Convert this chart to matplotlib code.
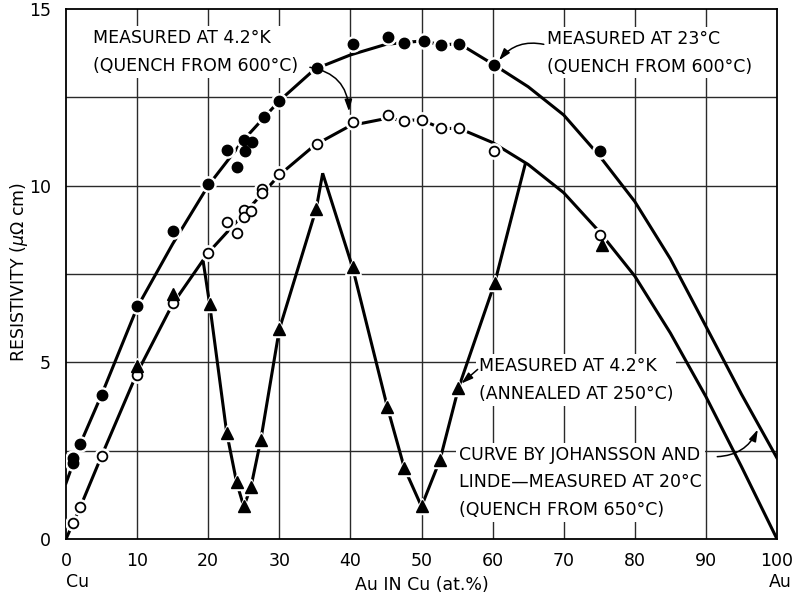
import matplotlib
matplotlib.use("Agg")
import matplotlib.pyplot as plt

# ---- data ----
# Filled circles (measured at 23 C, quench from 600 C)
fill_x = [1, 1, 2, 5, 10, 15, 20, 22.6, 24, 25.1, 25.2, 26.2, 27.8, 30, 35.3, 40.3, 45.3, 47.6, 50.3, 52.8, 55.3, 60.2, 75.1]
fill_y = [2.29, 2.15, 2.69, 4.08, 6.6, 8.71, 10.06, 11.01, 10.54, 11.29, 10.98, 11.24, 11.95, 12.4, 13.34, 14.0, 14.21, 14.05, 14.1, 13.98, 14.02, 13.42, 10.98]
# Trend curve through filled circles (Johansson and Linde curve)
fcurve_x = [0, 2, 5, 10, 15, 20, 25, 30, 35, 40, 45, 47.6, 50.3, 52.8, 55.3, 60.2, 65, 70, 75, 80, 85, 90, 95, 100]
fcurve_y = [1.58, 2.69, 4.08, 6.55, 8.35, 10.0, 11.3, 12.4, 13.3, 13.7, 14.0, 14.05, 14.1, 13.98, 14.02, 13.42, 12.8, 12.0, 10.85, 9.55, 7.93, 6.02, 4.1, 2.29]

# Open circles (measured at 4.2 K, quench from 600 C)
open_x = [1, 2, 5, 10, 15, 20, 22.7, 24, 25, 25.1, 26, 27.6, 27.6, 30, 35.3, 40.3, 45.3, 47.6, 50, 52.8, 55.3, 60.2, 75.1]
open_y = [0.45, 0.9, 2.35, 4.65, 6.68, 8.1, 8.97, 8.65, 9.3, 9.12, 9.27, 9.9, 9.78, 10.32, 11.19, 11.81, 11.99, 11.83, 11.86, 11.62, 11.62, 10.98, 8.59]
ocurve_x = [0, 1, 2, 5, 10, 15, 20, 25, 30, 35, 40, 45, 47.6, 50, 52.8, 55.3, 60, 65, 70, 75, 80, 85, 90, 95, 100]
ocurve_y = [0.0, 0.45, 0.9, 2.35, 4.7, 6.65, 8.1, 9.2, 10.3, 11.15, 11.7, 11.9, 11.85, 11.86, 11.62, 11.62, 11.22, 10.6, 9.8, 8.7, 7.44, 5.83, 4.03, 2.05, 0.0]

# Triangles (measured at 4.2 K, annealed at 250 C)
tri_x = [10, 15, 20.2, 22.6, 24, 25, 26, 27.4, 30, 35.2, 40.3, 45.2, 47.6, 50, 52.6, 55.2, 60.3, 75.4]
tri_y = [4.91, 6.92, 6.65, 3.01, 1.6, 0.92, 1.46, 2.81, 5.93, 9.35, 7.69, 3.73, 2.0, 0.92, 2.24, 4.27, 7.25, 8.31]
tline_x = [19.3, 20.2, 22.6, 24, 25, 26, 27.4, 30, 35.2, 36.1, 40.3, 45.2, 47.6, 50, 52.6, 55.2, 60.3, 64.6]
tline_y = [7.85, 6.65, 3.01, 1.6, 0.92, 1.46, 2.81, 5.93, 9.35, 10.35, 7.69, 3.73, 2.0, 0.92, 2.24, 4.27, 7.25, 10.62]

x_ticks = [0, 10, 20, 30, 40, 50, 60, 70, 80, 90, 100]
y_ticks = [0, 5, 10, 15]

FONT = "DejaVu Sans"
plt.rcParams["font.family"] = [FONT]

fig = plt.figure(figsize=(7.94, 5.94), dpi=100)
ax = fig.add_axes([66 / 794, 1 - 539 / 594, 711 / 794, 530 / 594])
ax.set_xlim(0, 100)
ax.set_ylim(0, 15)

# grid
for gx in range(10, 100, 10):
    ax.axvline(gx, color="#2a2a2a", lw=1.0, zorder=0.5)
for gy in [2.5, 5, 7.5, 10, 12.5]:
    ax.axhline(gy, color="#2a2a2a", lw=1.0, zorder=0.5)
for s in ax.spines.values():
    s.set_linewidth(1.3)
    s.set_color("black")

ax.set_xticks(x_ticks)
ax.set_yticks(y_ticks)
ax.tick_params(length=0, labelsize=12.5, pad=9)
ax.tick_params(axis="y", pad=11)

LW = 2.2
ax.plot(fcurve_x, fcurve_y, color="black", lw=LW, zorder=3, solid_joinstyle="round")
ax.plot(ocurve_x, ocurve_y, color="black", lw=LW, zorder=3, solid_joinstyle="round")
ax.plot(tline_x, tline_y, color="black", lw=LW, zorder=3, solid_joinstyle="miter")

# white halos to break lines around markers
ax.plot(fill_x, fill_y, ls="none", marker="o", ms=11, mfc="white", mec="white", zorder=4)
ax.plot(open_x, open_y, ls="none", marker="o", ms=11, mfc="white", mec="white", zorder=4)
ax.plot(tri_x, tri_y, ls="none", marker="^", ms=12, mfc="white", mec="white", zorder=4)

ax.plot(fill_x, fill_y, ls="none", marker="o", ms=7.5, mfc="black", mec="black", zorder=5)
ax.plot(open_x, open_y, ls="none", marker="o", ms=7, mfc="white", mec="black", mew=1.3, zorder=5)
ax.plot(tri_x, tri_y, ls="none", marker="^", ms=8, mfc="black", mec="black", zorder=5)

tkw = dict(fontsize=12.5, color="black", ha="left", va="center", zorder=2,
           linespacing=1.7, bbox=dict(facecolor="white", edgecolor="none", pad=2))
ax.text(3.8, 13.78, "MEASURED AT 4.2°K\n(QUENCH FROM 600°C)", **tkw)
ax.text(67.6, 13.76, "MEASURED AT 23°C\n(QUENCH FROM 600°C)", **tkw)
ax.text(58.1, 4.5, "MEASURED AT 4.2°K\n(ANNEALED AT 250°C)", **tkw)
ax.text(55.3, 1.6, "CURVE BY JOHANSSON AND\nLINDE—MEASURED AT 20°C\n(QUENCH FROM 650°C)", **tkw)

akw = dict(arrowstyle="-|>,head_length=0.7,head_width=0.22", color="black", lw=1.1,
           shrinkA=0, shrinkB=0)
ax.annotate("", xy=(39.8, 12.1), xytext=(34.3, 13.35),
            arrowprops=dict(connectionstyle="arc3,rad=-0.4", **akw), zorder=6)
ax.annotate("", xy=(60.9, 13.55), xytext=(67.2, 14.0),
            arrowprops=dict(connectionstyle="arc3,rad=0.3", **akw), zorder=6)
ax.annotate("", xy=(55.6, 4.4), xytext=(57.9, 4.8),
            arrowprops=dict(connectionstyle="arc3,rad=0", **akw), zorder=6)
ax.annotate("", xy=(97.3, 3.1), xytext=(91.6, 2.33),
            arrowprops=dict(connectionstyle="arc3,rad=0.3", **akw), zorder=6)

fig.text(19 / 794, 1 - 272 / 594, "RESISTIVITY ($\\mu\\Omega$ cm)", fontsize=12.5,
         rotation=90, ha="center", va="center")
ax.set_xlabel("Au IN Cu (at.%)", fontsize=12.5, labelpad=5)
fig.text(66 / 794, 1 - 582 / 594, "Cu", fontsize=12.5, ha="left", va="center")
fig.text(780 / 794, 1 - 582 / 594, "Au", fontsize=12.5, ha="center", va="center")

fig.savefig("out.png", dpi=100)
